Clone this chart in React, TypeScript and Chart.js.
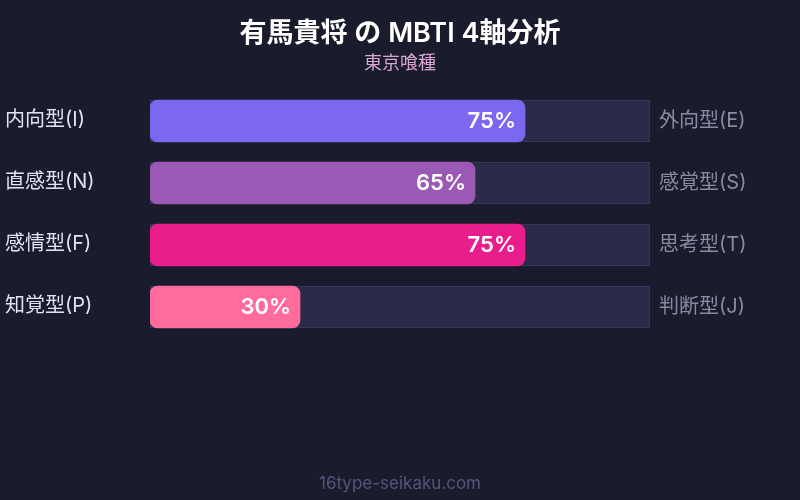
import React, { useRef, useEffect } from "react";
import { Chart, registerables } from "chart.js";

Chart.register(...registerables);

const leftLabels = ["内向型(I)", "直感型(N)", "感情型(F)", "知覚型(P)"];
const rightLabels = ["外向型(E)", "感覚型(S)", "思考型(T)", "判断型(J)"];
const scores = [75, 65, 75, 30];
const trackValues = [100, 100, 100, 100];
const barColors = ["#7b68ee", "#9b59b6", "#e91e8c", "#ff6b9d"];

const titleText = "有馬貴将 の MBTI 4軸分析";
const subtitleText = "東京喰種";
const footerText = "16type-seikaku.com";

const FONT = "Inter, 'Noto Sans CJK JP', sans-serif";

const textPlugin = {
	id: "mbtiText",
	afterDatasetsDraw(chart: any) {
		const ctx = chart.ctx;
		const w = chart.width;
		const valueMeta = chart.getDatasetMeta(0);
		const trackMeta = chart.getDatasetMeta(1);
		ctx.save();
		ctx.textBaseline = "middle";

		// title block
		ctx.textAlign = "center";
		ctx.fillStyle = "#ffffff";
		ctx.font = `600 27px ${FONT}`;
		ctx.fillText(titleText, w / 2, 34);
		ctx.fillStyle = "#d9a6d6";
		ctx.font = `18px ${FONT}`;
		ctx.fillText(subtitleText, w / 2, 64);

		ctx.fillStyle = "#55557a";
		ctx.font = `17px ${FONT}`;
		ctx.fillText(footerText, w / 2, 484);

		valueMeta.data.forEach((bar: any, i: number) => {
			const track = trackMeta.data[i];
			ctx.textAlign = "left";
			ctx.fillStyle = "#e2e2f0";
			ctx.font = `20px ${FONT}`;
			ctx.fillText(leftLabels[i], 5, bar.y - 1);

			ctx.fillStyle = "#8a8aa3";
			ctx.fillText(rightLabels[i], track.x + 9, bar.y);

			ctx.textAlign = "right";
			ctx.fillStyle = "#ffffff";
			ctx.font = `600 22px ${FONT}`;
			ctx.fillText(`${scores[i]}%`, bar.x - 9, bar.y);
		});
		ctx.restore();
	},
};

const App: React.FC = () => {
	const canvasRef = useRef<HTMLCanvasElement | null>(null);
	const chartRef = useRef<Chart | null>(null);

	useEffect(() => {
		if (!canvasRef.current) return;
		chartRef.current = new Chart(canvasRef.current, {
			type: "bar",
			data: {
				labels: leftLabels,
				datasets: [
					{
						label: "score",
						data: scores,
						backgroundColor: barColors,
						borderRadius: 8,
						borderSkipped: false,
						barThickness: 42,
						grouped: false,
						order: 0,
					},
					{
						label: "track",
						data: trackValues,
						backgroundColor: "#2b2a48",
						borderColor: "#3c3b5e",
						borderWidth: 1,
						borderSkipped: false,
						barThickness: 42,
						grouped: false,
						order: 1,
					},
				],
			},
			options: {
				indexAxis: "y",
				animation: false,
				responsive: false,
				layout: { padding: { left: 150, right: 150, top: 90, bottom: 162 } },
				scales: {
					x: { min: 0, max: 100, display: false },
					y: { display: false },
				},
				plugins: {
					legend: { display: false },
					tooltip: { enabled: false },
				},
			},
			plugins: [textPlugin],
		} as any);

		return () => {
			if (chartRef.current) {
				chartRef.current.destroy();
				chartRef.current = null;
			}
		};
	}, []);

	return (
		<div
			style={{
				position: "fixed",
				left: 0,
				top: 0,
				width: 800,
				height: 500,
				background: "#1b1b2e",
			}}
		>
			<canvas ref={canvasRef} width={800} height={500}></canvas>
		</div>
	);
};

export default App;
